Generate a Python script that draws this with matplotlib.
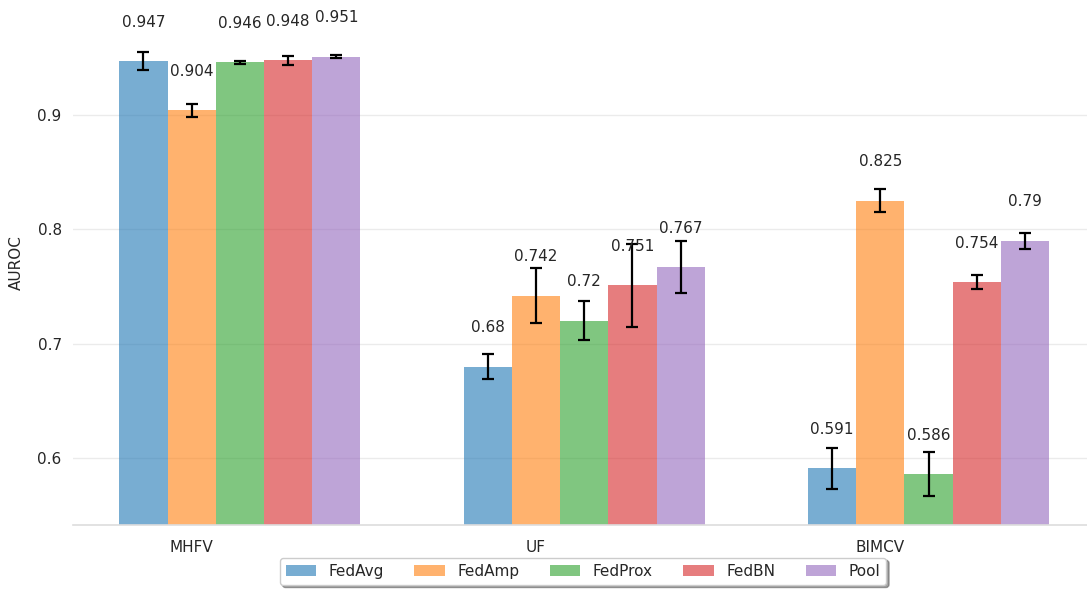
import matplotlib
matplotlib.use("Agg")
import matplotlib.pyplot as plt
import numpy as np

groups = ["MHFV", "UF", "BIMCV"]
methods = ["FedAvg", "FedAmp", "FedProx", "FedBN", "Pool"]
fedavg = [0.947, 0.680, 0.591]
fedamp = [0.904, 0.742, 0.825]
fedprox = [0.946, 0.720, 0.586]
fedbn = [0.948, 0.751, 0.754]
pool = [0.951, 0.767, 0.790]
fedavg_err = [0.008, 0.011, 0.018]
fedamp_err = [0.006, 0.024, 0.010]
fedprox_err = [0.0015, 0.017, 0.019]
fedbn_err = [0.004, 0.036, 0.006]
pool_err = [0.0015, 0.023, 0.007]

values = [fedavg, fedamp, fedprox, fedbn, pool]
errors = [fedavg_err, fedamp_err, fedprox_err, fedbn_err, pool_err]
colors = ["#1f77b4", "#ff7f0e", "#2ca02c", "#d62728", "#9467bd"]

fig = plt.figure(figsize=(10.87, 5.89), dpi=100)
ax = fig.add_axes([0.067, 0.1087, 0.933, 0.8913])

x = np.arange(len(groups))
w = 0.14
textc = "#262626"
fs = 11
for k, (vals, errs, c, name) in enumerate(zip(values, errors, colors, methods)):
    pos = x + (k - 1) * w
    ax.bar(pos, vals, width=w, color=c, alpha=0.6, label=name, zorder=2)
    ax.errorbar(pos, vals, yerr=errs, fmt="none", ecolor="black",
                elinewidth=1.6, capsize=4, capthick=1.6, zorder=3)
    for p, v in zip(pos, vals):
        ax.text(p, v + 0.034, f"{v:g}", ha="center", va="center",
                fontsize=fs, color=textc)

ax.set_xlim(-0.345, 2.60)
ax.set_ylim(0.5414, 1.0006)
ax.set_yticks([0.6, 0.7, 0.8, 0.9])
ax.set_yticklabels(["0.6", "0.7", "0.8", "0.9"])
ax.set_xticks(x)
ax.set_xticklabels(groups)
ax.tick_params(axis="both", length=0, labelsize=fs, labelcolor=textc)
ax.tick_params(axis="x", pad=11)
ax.tick_params(axis="y", pad=8)
ax.yaxis.grid(True, color="#ebebeb", linewidth=1, zorder=0)
ax.set_axisbelow(True)
for s in ["left", "right", "top"]:
    ax.spines[s].set_visible(False)
ax.spines["bottom"].set_color("#dddddd")
ax.spines["bottom"].set_linewidth(1.2)
ax.set_ylabel("AUROC", fontsize=fs, color=textc, labelpad=10)

ax.legend(loc="upper center", bbox_to_anchor=(0.503, -0.062), ncol=5,
          fontsize=fs, frameon=True, shadow=True, borderaxespad=0)
for t in ax.get_legend().get_texts():
    t.set_color(textc)

fig.savefig("out.png", dpi=100)
